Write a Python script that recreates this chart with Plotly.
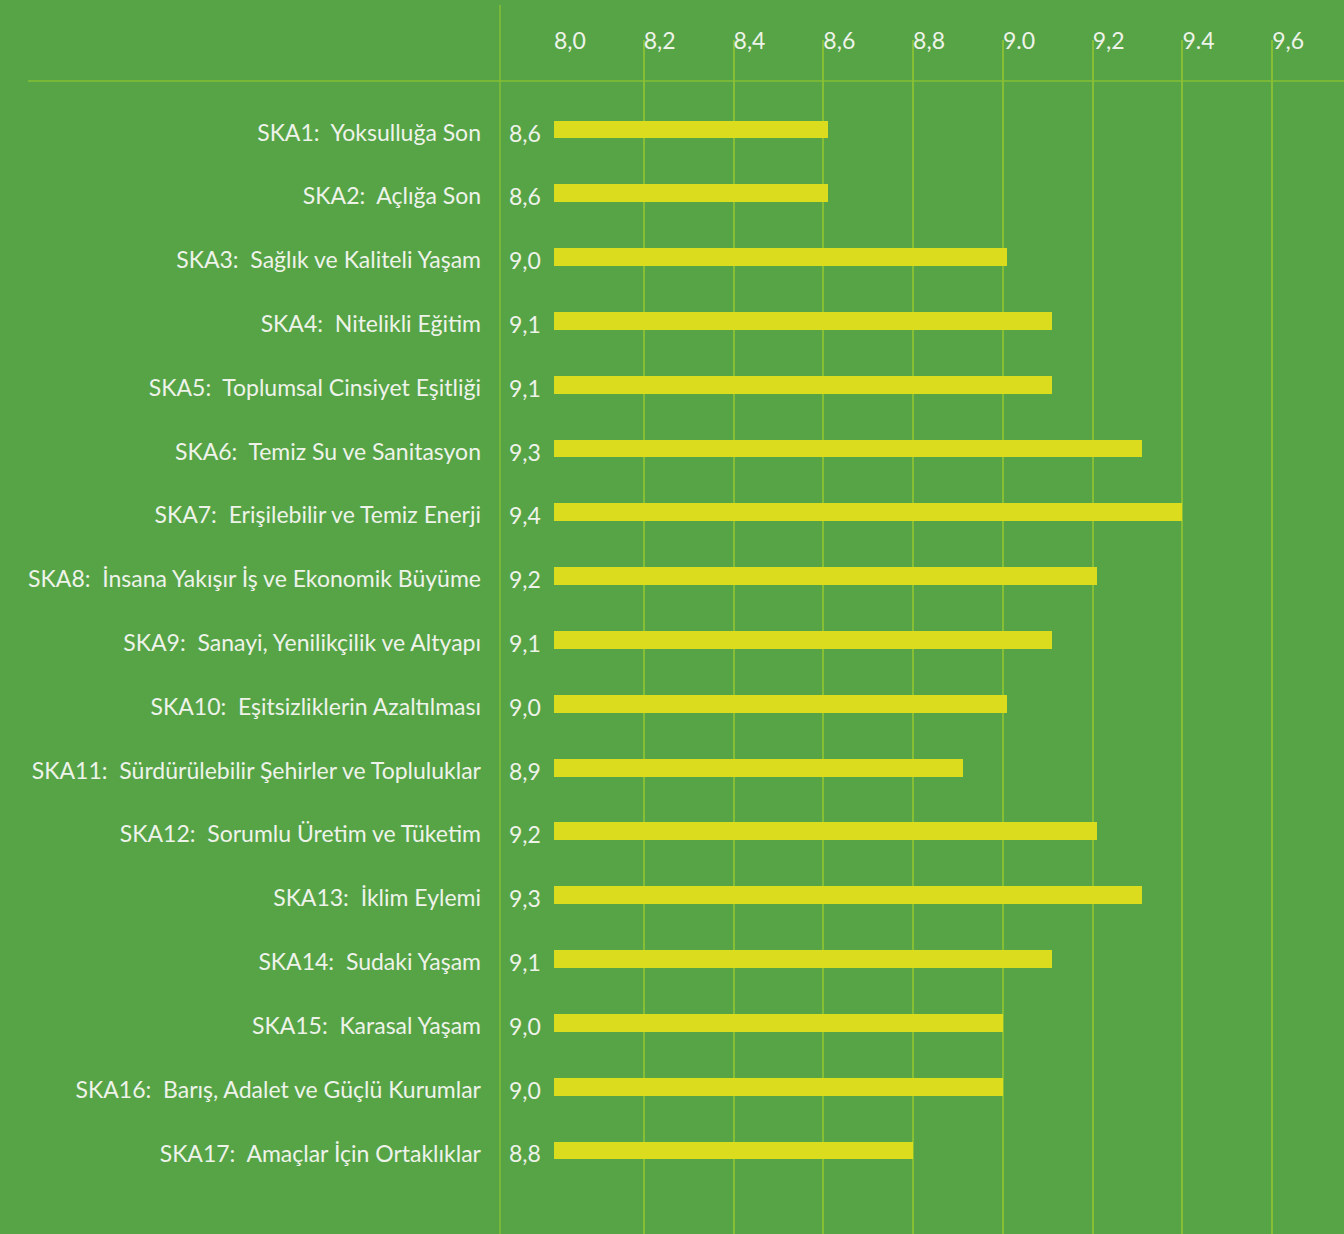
import plotly.graph_objects as go

categories = [
    "SKA1:  Yoksulluğa Son",
    "SKA2:  Açlığa Son",
    "SKA3:  Sağlık ve Kaliteli Yaşam",
    "SKA4:  Nitelikli Eğitim",
    "SKA5:  Toplumsal Cinsiyet Eşitliği",
    "SKA6:  Temiz Su ve Sanitasyon",
    "SKA7:  Erişilebilir ve Temiz Enerji",
    "SKA8:  İnsana Yakışır İş ve Ekonomik Büyüme",
    "SKA9:  Sanayi, Yenilikçilik ve Altyapı",
    "SKA10:  Eşitsizliklerin Azaltılması",
    "SKA11:  Sürdürülebilir Şehirler ve Topluluklar",
    "SKA12:  Sorumlu Üretim ve Tüketim",
    "SKA13:  İklim Eylemi",
    "SKA14:  Sudaki Yaşam",
    "SKA15:  Karasal Yaşam",
    "SKA16:  Barış, Adalet ve Güçlü Kurumlar",
    "SKA17:  Amaçlar İçin Ortaklıklar",
]
values = [8.61, 8.61, 9.01, 9.11, 9.11, 9.31, 9.40, 9.21, 9.11, 9.01,
          8.91, 9.21, 9.31, 9.11, 9.00, 9.00, 8.80]
value_labels = ["8,6", "8,6", "9,0", "9,1", "9,1", "9,3", "9,4", "9,2", "9,1", "9,0",
                "8,9", "9,2", "9,3", "9,1", "9,0", "9,0", "8,8"]
tick_vals = [8.0, 8.2, 8.4, 8.6, 8.8, 9.0, 9.2, 9.4, 9.6]
tick_text = ["8,0", "8,2", "8,4", "8,6", "8,8", "9.0", "9,2", "9.4", "9,6"]

BG = "#56A446"
GRID = "#86BE36"
BAR = "#DCDC1E"
TXT = "#EEF3EA"
FONT = "Lato"

W, H = 1344, 1234
L, T = 554, 40
px_per_unit = 448.9
row_px = 63.81
first_center = 129.5

x_max = 8.0 + (W - L) / px_per_unit
y_top = (T - first_center) / row_px
y_bot = (H - first_center) / row_px

fig = go.Figure()
fig.add_trace(go.Bar(
    y=categories,
    x=[v - 8.0 for v in values],
    base=8.0,
    orientation="h",
    marker=dict(color=BAR, line=dict(width=0)),
    width=0.28,
    hoverinfo="skip",
))

for cat, lab in zip(categories, value_labels):
    fig.add_annotation(
        x=(525 - L) / (W - L), xref="paper", y=cat, yref="y",
        text=lab, showarrow=False, xanchor="center", yanchor="middle",
        yshift=-3,
        font=dict(family=FONT, size=23, color=TXT),
    )

# decorative lines
fig.add_shape(type="line", xref="paper", yref="paper",
              x0=(28 - L) / (W - L), x1=1.0,
              y0=(H - 81) / (H - T), y1=(H - 81) / (H - T),
              line=dict(color=GRID, width=1.5))
fig.add_shape(type="line", xref="paper", yref="paper",
              x0=(500 - L) / (W - L), x1=(500 - L) / (W - L),
              y0=0, y1=(H - 5) / (H - T),
              line=dict(color=GRID, width=1.5))

fig.update_layout(
    width=W, height=H,
    margin=dict(l=L, r=0, t=T, b=0),
    paper_bgcolor=BG, plot_bgcolor=BG,
    showlegend=False,
    bargap=0,
    font=dict(family=FONT, color=TXT),
    xaxis=dict(
        side="top", range=[8.0, x_max],
        tickvals=tick_vals, ticktext=tick_text,
        showgrid=True, gridcolor=GRID, gridwidth=1.5,
        zeroline=False, showline=False, ticks="",
        ticklabelposition="outside right", ticklabelstandoff=-15,
        tickfont=dict(family=FONT, size=23, color=TXT),
    ),
    yaxis=dict(
        type="category", categoryorder="array", categoryarray=categories,
        range=[y_bot, y_top],
        showgrid=False, zeroline=False, showline=False, ticks="",
        ticklabelstandoff=72, ticklabelshift=-3,
        tickfont=dict(family=FONT, size=23, color=TXT),
    ),
)

fig.write_html(
    "out.html",
    config={"displayModeBar": False},
    post_script="document.body.style.margin='0';document.body.style.background='%s';" % BG,
)
